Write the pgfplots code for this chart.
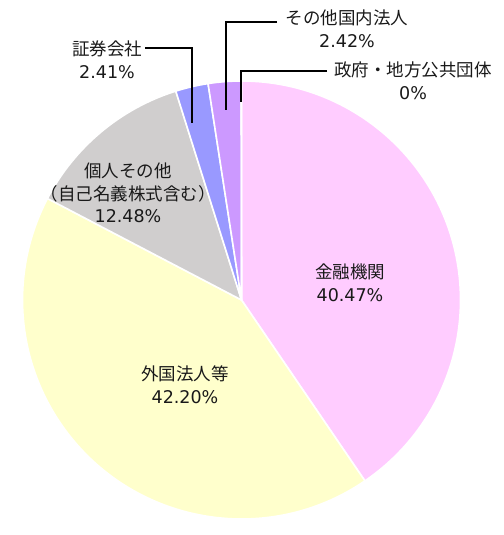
\documentclass[border=0pt]{standalone}
\usepackage{fontspec}
\setmainfont{DejaVu Sans}
\newfontfamily\jp{Noto Sans CJK JP}
\usepackage{pgfplots}
\usepackage{pgfplotstable}
\pgfplotsset{compat=1.18}

\definecolor{cKinyu}{HTML}{FFCCFF}
\definecolor{cGaikoku}{HTML}{FFFFCC}
\definecolor{cKojin}{HTML}{D0CECE}
\definecolor{cShoken}{HTML}{9999FF}
\definecolor{cSonota}{HTML}{CC99FF}
\definecolor{cSeifu}{HTML}{FF99CC}

\tikzset{lbl/.style={align=center, font=\fontsize{17.5}{22.5}\selectfont, text=black!90}}

% shares in percent, clockwise from 12 o'clock
\pgfplotstableread[col sep=comma]{
name,share,color
kinyu,40.47,cKinyu
gaikoku,42.20,cGaikoku
kojin,12.48,cKojin
shoken,2.41,cShoken
sonota,2.42,cSonota
seifu,0,cSeifu
}\piedata

\begin{document}
\begin{tikzpicture}
\begin{axis}[
    name=ax,
    hide axis,
    scale only axis,
    width=503pt, height=535pt,
    xmin=0, xmax=503, ymin=0, ymax=535,
    clip=false,
]
% slices
\def\angstart{90}
\pgfplotsforeachungrouped \i in {0,...,5}{%
    \pgfplotstablegetelem{\i}{share}\of\piedata
    \let\val\pgfplotsretval
    \pgfplotstablegetelem{\i}{color}\of\piedata
    \let\col\pgfplotsretval
    \pgfmathsetmacro\angend{\angstart-3.6*\val}%
    \edef\temp{\noexpand\fill[fill=\col, draw=white, line width=1.6pt, line join=round]
        (axis cs:241.5,235) -- ++(\angstart:219pt)
        arc[start angle=\angstart, end angle=\angend, radius=219pt] -- cycle;}%
    \temp
    \global\let\angstart\angend
}

% labels inside
\node[lbl] at (axis cs:350,252) {{\jp 金融機関}\\40.47\%};
\node[lbl] at (axis cs:185,150.5) {{\jp 外国法人等}\\42.20\%};
\node[lbl] at (axis cs:128,342) {{\jp 個人その他}\\{\jp （自己名義株式含む）}\\12.48\%};

% leader lines
\draw[line width=1.8pt] (axis cs:145,487) -- (axis cs:192,487) -- (axis cs:192,412);
\draw[line width=1.8pt] (axis cs:277,513) -- (axis cs:226,513) -- (axis cs:226,425);
\draw[line width=1.8pt] (axis cs:327,464) -- (axis cs:241,464) -- (axis cs:241,433);

% labels outside
\node[lbl] at (axis cs:107,475) {{\jp 証券会社}\\2.41\%};
\node[lbl] at (axis cs:347,506) {{\jp その他国内法人}\\2.42\%};
\node[lbl] at (axis cs:413,454) {{\jp 政府・地方公共団体}\\0\%};
\end{axis}
\pgfresetboundingbox
\path (ax.south west) rectangle (ax.north east);
\end{tikzpicture}
\end{document}
